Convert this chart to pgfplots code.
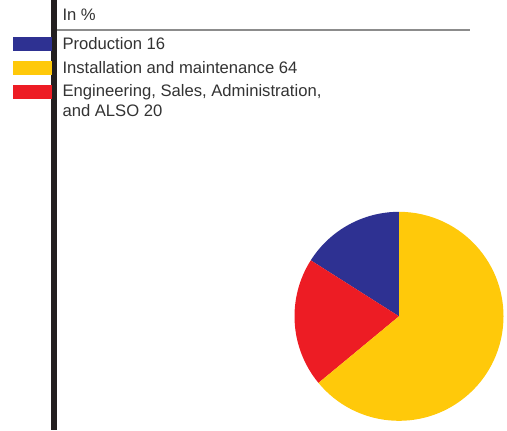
\documentclass[border=0pt]{standalone}
\usepackage{pgfplots}
\usepackage{pgfplotstable}
\pgfplotsset{compat=1.18}
\usepackage{fontspec}
\setmainfont{Liberation Sans}

\definecolor{prodblue}{HTML}{2E3192}
\definecolor{instyellow}{HTML}{FFC90A}
\definecolor{engred}{HTML}{ED1C24}
\definecolor{rulegray}{HTML}{8C8C8C}
\definecolor{bardark}{HTML}{231F20}
\definecolor{textgray}{HTML}{333333}

% Workforce shares in %
\pgfplotstableread{
group share
Production 16
Installation 64
Engineering 20
}\sharetable

\pgfplotstablegetelem{0}{share}\of\sharetable \let\shProd\pgfplotsretval
\pgfplotstablegetelem{1}{share}\of\sharetable \let\shInst\pgfplotsretval
\pgfplotstablegetelem{2}{share}\of\sharetable \let\shEng\pgfplotsretval

% wedge boundaries, counter-clockwise from 12 o'clock
\pgfmathsetmacro\angA{90}
\pgfmathsetmacro\angB{\angA+3.6*\shProd}
\pgfmathsetmacro\angC{\angB+3.6*\shEng}
\pgfmathsetmacro\angD{\angC+3.6*\shInst}

\tikzset{lbl/.style={anchor=base west, inner sep=0pt, text=textgray,
  font=\fontsize{16.7}{20}\selectfont}}

\begin{document}
\begin{tikzpicture}
\begin{axis}[
  x=1bp, y=1bp, y dir=reverse,
  xmin=0, xmax=507, ymin=0, ymax=430,
  hide axis, clip=false, scale only axis,
]
% frame of the panel
\draw[line width=5.5bp, bardark] (axis cs:54,0) -- (axis cs:54,430);
\draw[line width=1.5bp, rulegray] (axis cs:57,30) -- (axis cs:470,30);
\node[lbl] at (axis cs:62.3,20) {In \%};

% legend
\fill[prodblue]   (axis cs:12.5,37.3) rectangle (axis cs:52,50.7);
\fill[instyellow] (axis cs:12.5,61)   rectangle (axis cs:52,75);
\fill[engred]     (axis cs:12.5,85)   rectangle (axis cs:52,99);
\node[lbl] at (axis cs:62.3,49.3) {Production \shProd};
\node[lbl] at (axis cs:62.3,73.3) {Installation and maintenance \shInst};
\node[lbl] at (axis cs:62.3,96.7) {Engineering, Sales, Administration,};
\node[lbl] at (axis cs:62.3,116) {and ALSO \shEng};

% pie
\fill[prodblue]   (axis cs:399,316.3) -- ++(\angA:104.5bp) arc[start angle=\angA, end angle=\angB, radius=104.5bp] -- cycle;
\fill[engred]     (axis cs:399,316.3) -- ++(\angB:104.5bp) arc[start angle=\angB, end angle=\angC, radius=104.5bp] -- cycle;
\fill[instyellow] (axis cs:399,316.3) -- ++(\angC:104.5bp) arc[start angle=\angC, end angle=\angD, radius=104.5bp] -- cycle;
\end{axis}
\pgfresetboundingbox
\path (current axis.south west) rectangle (current axis.north east);
\end{tikzpicture}
\end{document}
